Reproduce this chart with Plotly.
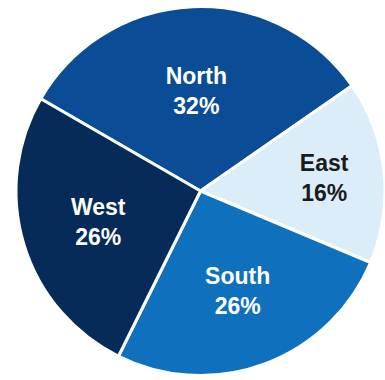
import plotly.graph_objects as go

regions = ["North", "East", "South", "West"]
shares = [32, 16, 26, 26]
slice_colors = ["#0b4c97", "#dcedfa", "#0f70bd", "#062b58"]
label_colors = ["#ffffff", "#1a1a1a", "#ffffff", "#ffffff"]

W, H = 385, 380
cx, cy, r = 201, 191, 185

fig = go.Figure(
    go.Pie(
        labels=regions,
        values=shares,
        sort=False,
        direction="clockwise",
        rotation=-60,
        marker=dict(colors=slice_colors, line=dict(color="#ffffff", width=3)),
        texttemplate="<b>%{label}</b><br><b>%{value}%</b>",
        textposition="inside",
        insidetextorientation="horizontal",
        textfont=dict(family="Arial, Liberation Sans, sans-serif", size=23, color=label_colors),
        hoverinfo="label+percent",
        showlegend=False,
        domain=dict(
            x=[(cx - r) / W, min(1, (cx + r) / W)],
            y=[(H - cy - r) / H, (H - cy + r) / H],
        ),
    )
)

fig.update_layout(
    width=W,
    height=H,
    margin=dict(l=0, r=0, t=0, b=0),
    paper_bgcolor="#ffffff",
    plot_bgcolor="#ffffff",
)

fig.write_html("out.html")
